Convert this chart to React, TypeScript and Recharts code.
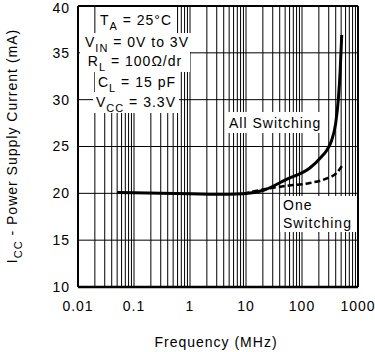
import React from "react";
import {
  LineChart,
  Line,
  XAxis,
  YAxis,
  ReferenceLine,
} from "recharts";

// frequency in MHz, supply current in mA
const allFreq = [0.05, 0.1, 1, 5, 9, 20, 53, 138, 223, 277, 340, 400, 445, 480, 512];
const allCurrent = [20.1, 20.05, 19.95, 19.9, 19.95, 20.3, 21.5, 22.7, 23.9, 24.6, 25.7, 27.5, 30, 33, 36.9];

const oneFreq = [9, 20, 53, 138, 277, 420, 512];
const oneCurrent = [19.95, 20.4, 20.8, 21.1, 21.6, 22.2, 22.9];

const xTicks = [0.01, 0.1, 1, 10, 100, 1000];
const yTicks = [10, 15, 20, 25, 30, 35, 40];

const allData = allFreq.map((f, i) => ({ f, ma: allCurrent[i] }));
const oneData = oneFreq.map((f, i) => ({ f, ma: oneCurrent[i] }));

// log grid: 1..9 in every decade
const minorLines: number[] = [];
for (let d = 0; d < 5; d++) {
  for (let m = 1; m <= 9; m++) {
    minorLines.push(Number((xTicks[d] * m).toPrecision(3)));
  }
}

const font = "'Liberation Sans', Arial, sans-serif";
const tickStyle = { fill: "#000", fontSize: 14, fontFamily: font, letterSpacing: 1 };

const App: React.FC = () => {
  return (
    <div style={{ position: "absolute", left: 0, top: 0, width: 375, height: 352, background: "#fff" }}>
      <LineChart width={375} height={352} margin={{ top: 6, right: 17, left: 0, bottom: 0 }}>
        <XAxis
          dataKey="f"
          type="number"
          scale="log"
          domain={[0.01, 1000]}
          ticks={xTicks}
          tickFormatter={(v) => String(v)}
          allowDataOverflow
          height={65}
          tickLine={false}
          tickMargin={8}
          axisLine={{ stroke: "#000", strokeWidth: 2.5 }}
          tick={tickStyle}
        />
        <YAxis
          type="number"
          domain={[10, 40]}
          ticks={yTicks}
          width={78}
          tickLine={false}
          axisLine={{ stroke: "#000", strokeWidth: 2 }}
          tick={tickStyle}
        />
        {minorLines.map((v) => (
          <ReferenceLine key={"v" + v} x={v} stroke="#000" strokeWidth={1} />
        ))}
        {yTicks.slice(1).map((v) => (
          <ReferenceLine key={"h" + v} y={v} stroke="#000" strokeWidth={1} />
        ))}
        <ReferenceLine x={1000} stroke="#000" strokeWidth={2} />
        <ReferenceLine y={40} stroke="#000" strokeWidth={2} />
        <Line
          data={allData}
          dataKey="ma"
          type="monotone"
          stroke="#000"
          strokeWidth={3}
          dot={false}
          isAnimationActive={false}
        />
        <Line
          data={oneData}
          dataKey="ma"
          type="monotone"
          stroke="#000"
          strokeWidth={2.5}
          strokeDasharray="6 3"
          dot={false}
          isAnimationActive={false}
        />
      </LineChart>
      <svg
        width={375}
        height={352}
        style={{ position: "absolute", left: 0, top: 0, pointerEvents: "none" }}
        fontFamily={font}
        fontSize={14}
        letterSpacing={1}
      >
        {/* conditions box */}
        <rect x={97} y={7} width={78} height={26} fill="#fff" />
        <rect x={80} y={33} width={113} height={19} fill="#fff" />
        <rect x={80} y={52} width={110} height={20} fill="#fff" />
        <rect x={95} y={72} width={84} height={20} fill="#fff" />
        <rect x={93} y={92} width={86} height={21} fill="#fff" />
        <text x={136} y={25} textAnchor="middle">
          T<tspan fontSize={11} dy={5}>A</tspan>
          <tspan dy={-5}> = 25°C</tspan>
        </text>
        <text x={137} y={47} textAnchor="middle">
          V<tspan fontSize={11} dy={5}>IN</tspan>
          <tspan dy={-5}> = 0V to 3V</tspan>
        </text>
        <text x={135} y={66} textAnchor="middle">
          R<tspan fontSize={11} dy={5}>L</tspan>
          <tspan dy={-5}> = 100Ω/dr</tspan>
        </text>
        <text x={137} y={87} textAnchor="middle">
          C<tspan fontSize={11} dy={5}>L</tspan>
          <tspan dy={-5}> = 15 pF</tspan>
        </text>
        <text x={136} y={107} textAnchor="middle">
          V<tspan fontSize={11} dy={5}>CC</tspan>
          <tspan dy={-5}> = 3.3V</tspan>
        </text>

        {/* series labels */}
        <rect x={226} y={112} width={102} height={21} fill="#fff" />
        <text x={229} y={128}>All Switching</text>
        <rect x={280} y={196} width={76} height={36} fill="#fff" />
        <text x={283} y={210}>One</text>
        <text x={283} y={228}>Switching</text>

        {/* axis titles */}
        <text x={216} y={347} textAnchor="middle">Frequency (MHz)</text>
        <text transform="translate(17,146) rotate(-90)" textAnchor="middle">
          I<tspan fontSize={11} dy={5}>CC</tspan>
          <tspan dy={-5}> - Power Supply Current (mA)</tspan>
        </text>
      </svg>
    </div>
  );
};

export default App;
